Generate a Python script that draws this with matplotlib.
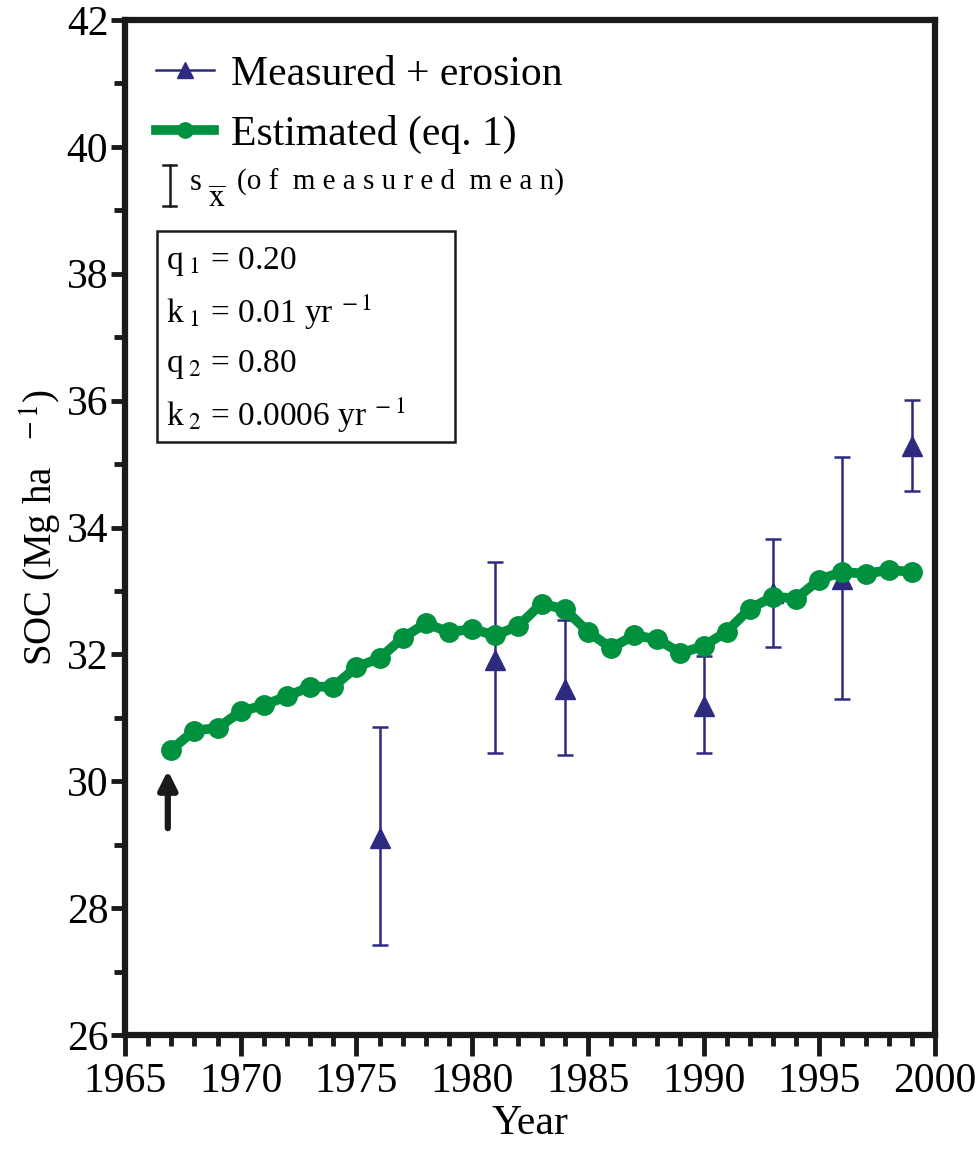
import numpy as np
import matplotlib
matplotlib.use('Agg')
import matplotlib.pyplot as plt
from matplotlib.lines import Line2D
from matplotlib.patches import Rectangle

# Estimated SOC (eq. 1), yearly
est_years = np.arange(1967, 2000)
est_soc = [30.50, 30.80, 30.84, 31.10, 31.20, 31.34, 31.49, 31.49, 31.80, 31.94,
           32.26, 32.49, 32.35, 32.40, 32.30, 32.45, 32.80, 32.71, 32.36, 32.10,
           32.30, 32.24, 32.02, 32.13, 32.36, 32.72, 32.91, 32.88, 33.18, 33.30,
           33.27, 33.33, 33.30]

# Measured + erosion with error bar ends
meas_years = [1976, 1981, 1984, 1990, 1993, 1996, 1999]
meas_soc = [29.10, 31.91, 31.46, 31.19, 32.97, 33.19, 35.28]
err_hi = [30.85, 33.45, 32.54, 31.98, 33.82, 35.11, 36.01]
err_lo = [27.42, 30.45, 30.41, 30.45, 32.11, 31.29, 34.58]

box_lines = [r'q$_{\ 1}$ = 0.20', r'k$_{\ 1}$ = 0.01 yr$^{\ -1}$',
             r'q$_{\ 2}$ = 0.80', r'k$_{\ 2}$ = 0.0006 yr$^{\ -1}$']

navy = '#2d2a80'
green = '#00913f'
black = '#1a1a1a'

plt.rcParams['font.family'] = ['Liberation Serif', 'DejaVu Serif']
plt.rcParams['mathtext.fontset'] = 'stix'

fig = plt.figure(figsize=(9.77, 11.55), dpi=100)
ax = fig.add_axes([125 / 977, 120 / 1155, 810 / 977, 1015 / 1155])

yerr = [np.array(meas_soc) - np.array(err_lo), np.array(err_hi) - np.array(meas_soc)]
ax.errorbar(meas_years, meas_soc, yerr=yerr, fmt='none', ecolor=navy,
            elinewidth=1.8, capsize=5.5, capthick=1.8, zorder=2)
ax.plot(meas_years, meas_soc, linestyle='none', marker='^', color=navy,
        markersize=14, zorder=3)
ax.plot(est_years, est_soc, color=green, linewidth=7, marker='o',
        markersize=14, zorder=4)

# start arrow
ax.annotate('', xy=(1966.85, 30.17), xytext=(1966.85, 29.26),
            arrowprops=dict(arrowstyle='-|>,head_length=1.1,head_width=0.55',
                            color=black, lw=4.5, shrinkA=0, shrinkB=0))

ax.set_xlim(1965, 2000)
ax.set_ylim(26, 42)
ax.set_xticks(np.arange(1965, 2001, 5))
ax.set_xticks(np.arange(1965, 2001, 1), minor=True)
ax.set_yticks(np.arange(26, 43, 2))
ax.set_yticks(np.arange(27, 42, 2), minor=True)

for s in ax.spines.values():
    s.set_linewidth(4.5)
    s.set_color(black)

ax.tick_params(axis='x', which='major', length=15, width=3.5, color=black,
               labelsize=30, pad=5)
ax.tick_params(axis='x', which='minor', length=8, width=3.5, color=black)
ax.tick_params(axis='y', which='major', length=10, width=3.5, color=black,
               labelsize=30, pad=2)
ax.tick_params(axis='y', which='minor', length=8, width=3.5, color=black)

ax.set_xlabel('Year', fontsize=30, labelpad=2)
ax.set_ylabel(r'SOC (Mg ha $^{\ \ -1}$)', fontsize=28, labelpad=2)

handles = [Line2D([], [], color=navy, lw=1.8, marker='^', markersize=11),
           Line2D([], [], color=green, lw=7, marker='o', markersize=11)]
ax.legend(handles, ['Measured + erosion', 'Estimated (eq. 1)'], loc='upper left',
          bbox_to_anchor=(-0.008, 1.002), frameon=False, fontsize=30,
          handlelength=1.4, handletextpad=0.4, labelspacing=0.5)

# third legend row: standard error symbol
ax.plot([0.055, 0.055], [0.817, 0.857], color=black, lw=1.8, transform=ax.transAxes)
ax.plot([0.047, 0.063], [0.817, 0.817], color=black, lw=1.8, transform=ax.transAxes)
ax.plot([0.047, 0.063], [0.857, 0.857], color=black, lw=1.8, transform=ax.transAxes)
ax.text(0.080, 0.840, 's', fontsize=22, transform=ax.transAxes, va='center')
ax.text(0.103, 0.822, r'$\overline{\mathrm{x}}$', fontsize=23, transform=ax.transAxes,
        va='center')
ax.text(0.138, 0.840, '(o f  m e a s u r e d  m e a n)', fontsize=21,
        transform=ax.transAxes, va='center')

# parameter box
ax.add_patch(Rectangle((0.040, 0.584), 0.367, 0.208, transform=ax.transAxes,
                       fill=False, edgecolor=black, lw=1.8))
for i, t in enumerate(box_lines):
    ax.text(0.050, 0.762 - i * 0.0505, t, fontsize=24, transform=ax.transAxes,
            va='center')

fig.savefig('out.png', dpi=100, facecolor='white')
